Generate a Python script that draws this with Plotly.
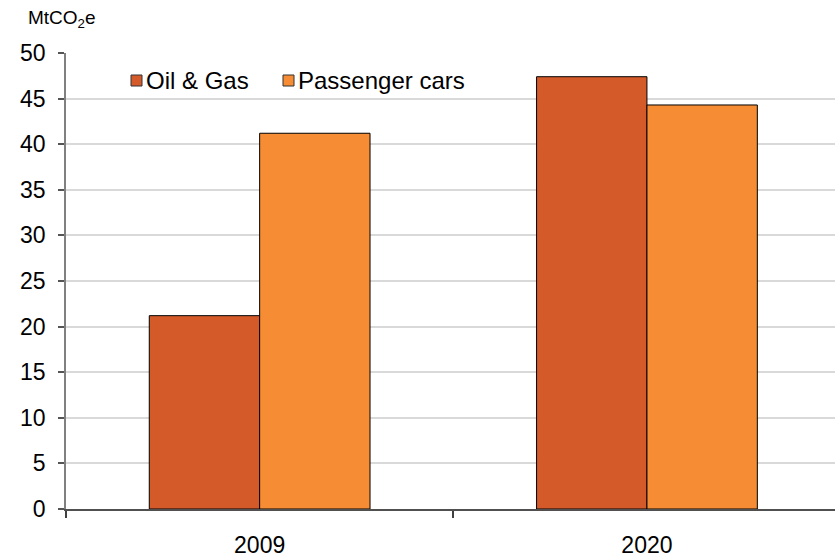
import plotly.graph_objects as go

# Emissions by source, MtCO2e
years = ["2009", "2020"]
oil_gas = [21.2, 47.4]
passenger_cars = [41.2, 44.3]
y_ticks = [0, 5, 10, 15, 20, 25, 30, 35, 40, 45, 50]

OIL_COLOR = "#D55A2A"
CAR_COLOR = "#F68C34"
FONT = "Liberation Sans, Arial, sans-serif"

W, H = 835, 558
L, R, T, B = 66, 0, 53, 49
plot_w = W - L - R
plot_h = H - T - B


def px_x(px):
    return (px - L) / plot_w


def px_y(py):
    return (H - B - py) / plot_h


fig = go.Figure()
fig.add_trace(go.Bar(name="Oil & Gas", x=years, y=oil_gas,
                     marker=dict(color=OIL_COLOR, line=dict(color="#000000", width=1))))
fig.add_trace(go.Bar(name="Passenger cars", x=years, y=passenger_cars,
                     marker=dict(color=CAR_COLOR, line=dict(color="#000000", width=1))))

# Hand-placed legend: small outlined squares followed by labels
legend_items = [("Oil & Gas", OIL_COLOR, 131), ("Passenger cars", CAR_COLOR, 283)]
shapes = []
annotations = []
for label, color, x0 in legend_items:
    shapes.append(dict(type="rect", xref="paper", yref="paper",
                       x0=px_x(x0), x1=px_x(x0 + 11), y0=px_y(86), y1=px_y(75),
                       fillcolor=color, line=dict(color="#333333", width=1)))
    annotations.append(dict(text=label, xref="paper", yref="paper",
                            x=px_x(x0 + 13), y=px_y(81), xanchor="left", yanchor="middle",
                            showarrow=False, font=dict(size=24, color="#000000", family=FONT)))

# Unit label above the value axis
annotations.append(dict(text="MtCO<sub>2</sub>e", xref="paper", yref="paper",
                        x=px_x(26), y=px_y(19), xanchor="left", yanchor="middle",
                        showarrow=False, font=dict(size=19, color="#000000", family=FONT)))

fig.update_layout(
    width=W, height=H,
    margin=dict(l=L, r=R, t=T, b=B, pad=0),
    paper_bgcolor="white", plot_bgcolor="white",
    barmode="group", bargap=0.43, bargroupgap=0,
    showlegend=False,
    font=dict(family=FONT, size=22, color="#000000"),
    shapes=shapes, annotations=annotations,
    xaxis=dict(type="category", range=[-0.5, -0.5 + plot_w / 387.3],
               tickson="boundaries", ticks="outside", ticklen=7, tickwidth=1.5,
               tickcolor="#404040", showgrid=False, showline=True,
               linecolor="#505050", linewidth=1.5, ticklabelstandoff=15,
               tickfont=dict(size=23)),
    yaxis=dict(range=[0, 50], tickvals=y_ticks, ticks="outside", ticklen=6,
               tickwidth=1.5, tickcolor="#555555", showgrid=True,
               gridcolor="#D9D9D9", gridwidth=1.5, showline=True,
               linecolor="#808080", linewidth=1.5, zeroline=False,
               ticklabelstandoff=8, tickfont=dict(size=23)),
)

fig.write_html("out.html")
